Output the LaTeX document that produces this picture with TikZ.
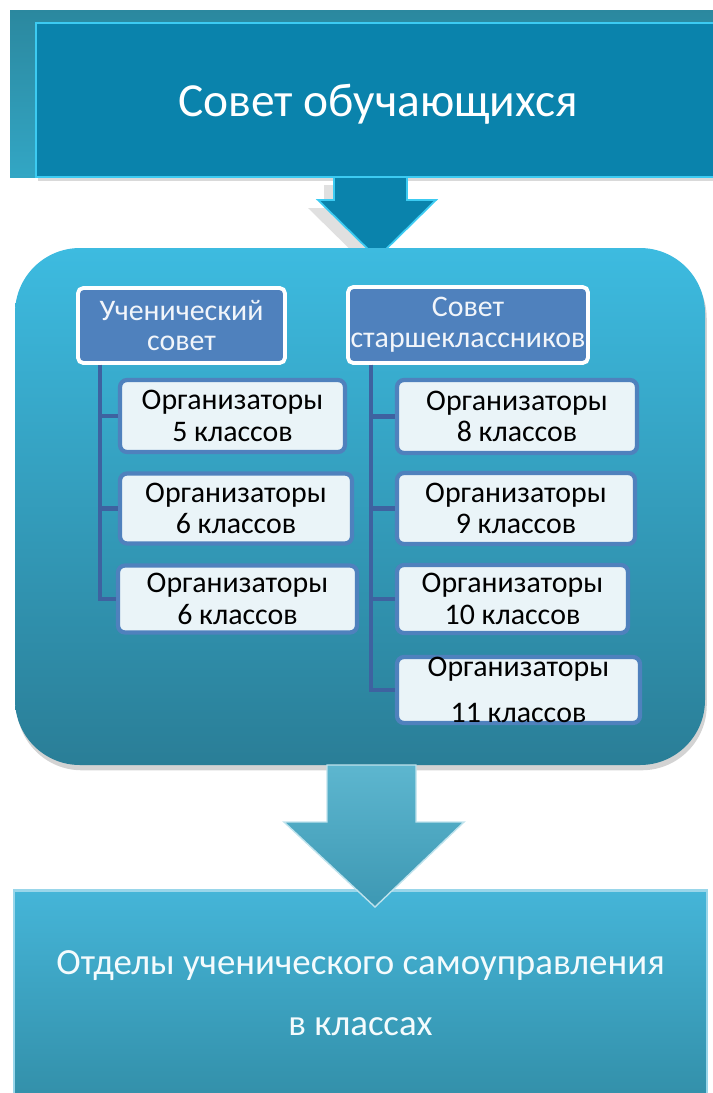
\documentclass[tikz,border=0pt]{standalone}
\usepackage{fontspec}
\setmainfont{Carlito}
\usepackage{tikz}
\usetikzlibrary{positioning, calc, shadows}

\definecolor{deepteal}{HTML}{0A83AC}
\definecolor{backteal}{HTML}{2B889F}
\definecolor{edgecyan}{HTML}{3CCBF2}
\definecolor{paneltop}{HTML}{3DBBE0}
\definecolor{panelbot}{HTML}{2A7E97}
\definecolor{hdrblue}{HTML}{4F81BD}
\definecolor{orgfill}{HTML}{EAF4F8}
\definecolor{treeblue}{HTML}{3E62A0}
\definecolor{basetop}{HTML}{45B5D8}
\definecolor{basebot}{HTML}{3390AA}
\definecolor{arrowtop}{HTML}{5DB6CF}
\definecolor{arrowbot}{HTML}{3D98B3}

\tikzset{
  hdrbox/.style={draw=white, line width=2.2pt, fill=hdrblue, rounded corners=3pt,
    inner sep=0pt, align=center, text=white!92!hdrblue, font=\fontsize{17}{17.5}\selectfont},
  orgbox/.style={draw=hdrblue, line width=2.4pt, fill=orgfill, rounded corners=4pt,
    inner sep=0pt, align=center, font=\fontsize{17}{18}\selectfont},
  treeline/.style={treeblue, line width=2.3pt},
}

\begin{document}
\begin{tikzpicture}[x=0.02cm, y=-0.02cm]
\useasboundingbox (0,0) rectangle (713,1093);

% Top box: student council
\shade[top color=backteal, bottom color=backteal!55!edgecyan] (10,10) rectangle (713,177);
\node[draw=edgecyan, line width=1.5pt, fill=deepteal, minimum width=13.68cm, minimum height=3.08cm,
    text=white, font=\fontsize{27}{32}\selectfont, text depth=0pt,
    drop shadow={opacity=0.3, shadow xshift=1pt, shadow yshift=-2pt}] (council) at (378,100) {Совет обучающихся};

% Arrow from council into panel
\fill[black, opacity=0.12] (324,185) -- (397,185) -- (397,208) -- (426,208) -- (367,266) -- (308,208) -- (324,208) -- cycle;
\fill[deepteal, draw=edgecyan, line width=1pt] (334,177) -- (407,177) -- (407,200) -- (436,200)
    -- (377,258) -- (318,200) -- (334,200) -- cycle;

% Rounded panel
\path[drop shadow={opacity=0.35, shadow xshift=1pt, shadow yshift=-3pt},
    top color=paneltop, bottom color=panelbot, rounded corners=1.3cm] (15,248) rectangle (705,765);

% Headers
\node[hdrbox, minimum width=4.14cm, minimum height=1.5cm] (uc) at (181.5,325.5) {Ученический\\совет};
\node[hdrbox, minimum width=4.8cm, minimum height=1.52cm] (sc) at (468,325) {Совет\\старшеклассников};

% Left column
\node[orgbox, minimum width=4.5cm, minimum height=1.44cm] (o5) at (232.5,416) {Организаторы\\5 классов};
\node[orgbox, minimum width=4.64cm, minimum height=1.4cm] (o6a) at (236,508.5) {Организаторы\\6 классов};
\node[orgbox, minimum width=4.78cm, minimum height=1.34cm] (o6b) at (237.5,599) {Организаторы\\6 классов};

% Right column
\node[orgbox, minimum width=4.8cm, minimum height=1.46cm] (o8) at (517,416.5) {Организаторы\\8 классов};
\node[orgbox, minimum width=4.76cm, minimum height=1.42cm] (o9) at (516,508.5) {Организаторы\\9 классов};
\node[orgbox, minimum width=4.62cm, minimum height=1.36cm] (o10) at (512.5,599) {Организаторы\\10 классов};
\node[orgbox, minimum width=4.86cm, minimum height=1.32cm] (o11) at (518.5,690) {Организаторы\\[8pt]11 классов};

% Tree lines
\draw[treeline] ($(uc.south west)+(24,0)$) |- (o5.west);
\draw[treeline] ($(uc.south west)+(24,0)$) |- (o6a.west);
\draw[treeline] ($(uc.south west)+(24,0)$) |- (o6b.west);
\draw[treeline] ($(sc.south west)+(25,0)$) |- (o8.west);
\draw[treeline] ($(sc.south west)+(25,0)$) |- (o9.west);
\draw[treeline] ($(sc.south west)+(25,0)$) |- (o10.west);
\draw[treeline] ($(sc.south west)+(25,0)$) |- (o11.west);

% Bottom box: class departments
\node[top color=basetop, bottom color=basebot, draw=basetop!55!white, line width=1.2pt,
    minimum width=13.86cm, minimum height=4.1cm, text=white!94!basetop, align=center,
    font=\fontsize{21}{35}\selectfont] (dept) at (360.5,993) {Отделы ученического самоуправления\\в классах};

% Arrow from panel to departments
\shade[top color=arrowtop, bottom color=arrowbot, draw=white!60!arrowtop, line width=0.8pt]
    (327,765) -- (416,765) -- (416,822) -- (464,822) -- (375,907) -- (284,822) -- (327,822) -- cycle;

\end{tikzpicture}
\end{document}
